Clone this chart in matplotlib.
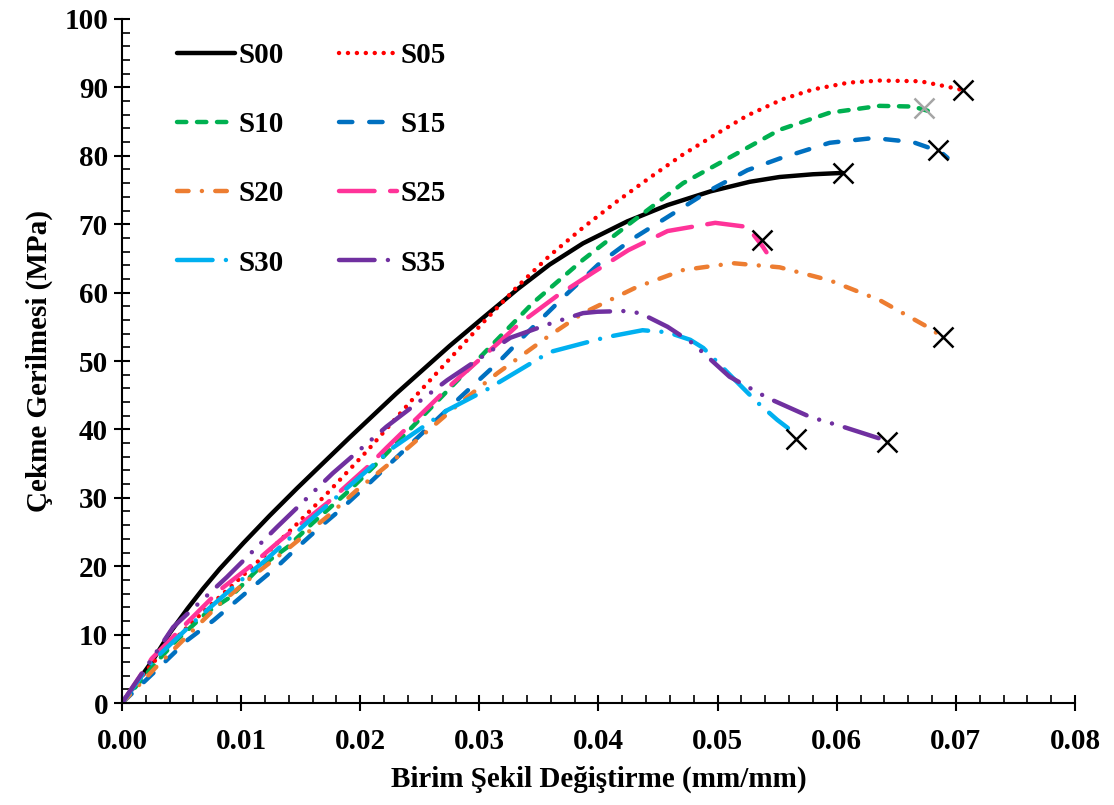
#! /usr/bin/env python3

import matplotlib
matplotlib.use("Agg")
import matplotlib.pyplot as plt
from matplotlib.ticker import MultipleLocator, FormatStrFormatter

plt.rcParams['font.family'] = ['Liberation Serif', 'DejaVu Serif']
plt.rcParams['font.weight'] = 'bold'

# strain (mm/mm) and stress (MPa)
s00_x = [0, 0.0015, 0.0026, 0.0040, 0.0055, 0.0068, 0.0082, 0.0102, 0.0124, 0.0147, 0.0166, 0.0191, 0.0230,
         0.0275, 0.0303, 0.0332, 0.0359, 0.0387, 0.0424, 0.0458, 0.0494, 0.0527, 0.0552, 0.0580, 0.0605]
s00_y = [0, 3.6, 6.3, 10.2, 13.8, 16.7, 19.6, 23.4, 27.4, 31.4, 34.6, 38.8, 45.2,
         52.2, 56.3, 60.5, 64.1, 67.2, 70.4, 72.8, 74.8, 76.2, 76.9, 77.3, 77.5]

s05_x = [0, 0.0024, 0.0046, 0.0068, 0.0097, 0.0124, 0.0147, 0.0172, 0.0206, 0.0245, 0.0284, 0.0303, 0.0332,
         0.0359, 0.0387, 0.0416, 0.0443, 0.0471, 0.0500, 0.0525, 0.0555, 0.0580, 0.0610, 0.0636, 0.0670, 0.0693, 0.0706]
s05_y = [0, 5.5, 9.6, 13.3, 17.9, 22.3, 26.2, 30.6, 36.9, 44.6, 52.0, 55.6, 60.9,
         65.4, 69.5, 73.4, 76.8, 80.2, 83.3, 85.9, 88.3, 89.7, 90.7, 91.0, 90.9, 90.1, 89.6]

s10_x = [0, 0.0029, 0.0046, 0.0071, 0.0091, 0.0116, 0.0139, 0.0160, 0.0191, 0.0211, 0.0264, 0.0312, 0.0345,
         0.0387, 0.0427, 0.0471, 0.0521, 0.0552, 0.0594, 0.0636, 0.0664, 0.0678]
s10_y = [0, 6.0, 9.2, 13.2, 15.5, 19.9, 22.8, 26.3, 31.1, 34.5, 44.0, 52.6, 58.5,
         64.8, 70.2, 76.0, 80.8, 83.8, 86.3, 87.3, 87.2, 86.5]

s15_x = [0, 0.0030, 0.0055, 0.0077, 0.0110, 0.0130, 0.0147, 0.0166, 0.0183, 0.0208, 0.0222, 0.0284, 0.0317,
         0.0340, 0.0374, 0.0401, 0.0429, 0.0463, 0.0494, 0.0525, 0.0552, 0.0594, 0.0631, 0.0664, 0.0687, 0.0693]
s15_y = [0, 5.0, 9.2, 12.1, 17.0, 19.9, 22.7, 25.7, 28.2, 32.2, 34.5, 44.7, 50.0,
         54.1, 59.9, 64.3, 67.9, 71.6, 75.0, 77.9, 79.6, 81.9, 82.6, 82.0, 80.6, 79.7]

s20_x = [0, 0.0030, 0.0082, 0.0113, 0.0141, 0.0172, 0.0197, 0.0228, 0.0284, 0.0315, 0.0357, 0.0387, 0.0432,
         0.0471, 0.0513, 0.0552, 0.0594, 0.0636, 0.0676, 0.0689]
s20_y = [0, 5.5, 14.5, 19.0, 22.8, 27.2, 31.1, 35.5, 43.9, 48.2, 53.5, 57.0, 60.8,
         63.3, 64.3, 63.7, 61.8, 58.9, 55.0, 53.5]

s25_x = [0, 0.0025, 0.0051, 0.0082, 0.0107, 0.0133, 0.0172, 0.0206, 0.0222, 0.0278, 0.0315, 0.0334, 0.0365,
         0.0396, 0.0425, 0.0458, 0.0498, 0.0525, 0.0538, 0.0541]
s25_y = [0, 6.5, 11.1, 16.5, 19.9, 23.8, 29.2, 34.5, 37.3, 46.8, 52.5, 55.5, 59.5,
         63.0, 66.2, 69.0, 70.2, 69.6, 66.7, 65.9]

s30_x = [0, 0.0025, 0.0065, 0.0107, 0.0118, 0.0155, 0.0194, 0.0228, 0.0273, 0.0306, 0.0359, 0.0407, 0.0437,
         0.0458, 0.0477, 0.0488, 0.0513, 0.0533, 0.0550, 0.0559]
s30_y = [0, 6.0, 12.6, 19.0, 20.5, 26.3, 32.2, 37.4, 42.8, 45.8, 51.3, 53.5, 54.5,
         54.2, 53.1, 51.9, 47.5, 44.0, 41.4, 40.2]

s35_x = [0, 0.0043, 0.0088, 0.0130, 0.0177, 0.0222, 0.0273, 0.0326, 0.0360, 0.0387, 0.0399, 0.0421, 0.0435,
         0.0458, 0.0479, 0.0510, 0.0542, 0.0578, 0.0605, 0.0639, 0.0642]
s35_y = [0, 11.1, 18.4, 25.7, 33.6, 40.4, 47.2, 53.4, 55.5, 57.0, 57.2, 57.3, 57.0,
         55.0, 52.6, 47.7, 44.6, 41.8, 40.4, 38.5, 38.2]

# fracture points (X marks)
frac_x = [0.0605, 0.0706, 0.0673, 0.0685, 0.0689, 0.0537, 0.0566, 0.0642]
frac_y = [77.5, 89.6, 87.0, 80.8, 53.5, 67.7, 38.6, 38.2]

labels = ['S00', 'S05', 'S10', 'S15', 'S20', 'S25', 'S30', 'S35']
xs = [s00_x, s05_x, s10_x, s15_x, s20_x, s25_x, s30_x, s35_x]
ys = [s00_y, s05_y, s10_y, s15_y, s20_y, s25_y, s30_y, s35_y]
colors = ['black', '#FF0000', '#00B050', '#0070C0', '#ED7D31', '#FF3399', '#00B0F0', '#7030A0']
styles = ['-', (0, (0.01, 2)), (0, (2.1, 2.4)), (0, (3, 3.8)), (0, (2.6, 3, 0.01, 3)),
          (0, (8, 3.5)), (0, (8, 3, 0.01, 3)), (0, (8, 3, 0.01, 3, 0.01, 3))]
frac_colors = ['black', 'black', '#A5A5A5', 'black', 'black', 'black', 'black', 'black']

fig = plt.figure(figsize=(11.14, 8.05), dpi=100)
ax = fig.add_axes([0.1095, 0.1267, 0.8555, 0.8497])

lines = []
for i in range(len(labels)):
    ln, = ax.plot(xs[i], ys[i], color=colors[i], linestyle=styles[i], lw=3.2,
                  dash_capstyle='round', solid_capstyle='round', label=labels[i])
    lines.append(ln)

for i in range(len(frac_x)):
    ax.plot(frac_x[i], frac_y[i], marker='x', ms=15, mew=1.8, color=frac_colors[i],
            linestyle='none', zorder=5)

ax.set_xlim(0, 0.08)
ax.set_ylim(0, 100)
ax.xaxis.set_major_locator(MultipleLocator(0.01))
ax.xaxis.set_minor_locator(MultipleLocator(0.002))
ax.yaxis.set_major_locator(MultipleLocator(10))
ax.yaxis.set_minor_locator(MultipleLocator(2))
ax.xaxis.set_major_formatter(FormatStrFormatter('%.2f'))

ax.spines['top'].set_visible(False)
ax.spines['right'].set_visible(False)
ax.spines['left'].set_linewidth(1.5)
ax.spines['bottom'].set_linewidth(1.5)
ax.tick_params(which='major', direction='inout', length=12, width=1.5, labelsize=21, pad=4)
ax.tick_params(which='minor', direction='in', length=6, width=1.2)
ax.tick_params(axis='x', which='major', pad=12)

ax.set_xlabel('Birim Şekil Değiştirme (mm/mm)', fontsize=21, fontweight='bold', labelpad=8)
ax.set_ylabel('Çekme Gerilmesi (MPa)', fontsize=21, fontweight='bold', labelpad=8)

# legend filled row by row: S00 S05 / S10 S15 / ...
order = [0, 2, 4, 6, 1, 3, 5, 7]
ax.legend([lines[k] for k in order], [labels[k] for k in order], ncol=2, loc='upper left',
          bbox_to_anchor=(0.03, 1.005), frameon=False, fontsize=21, handlelength=2.0,
          labelspacing=1.45, columnspacing=1.9, handletextpad=0.1)

fig.savefig('out.png', dpi=100)
